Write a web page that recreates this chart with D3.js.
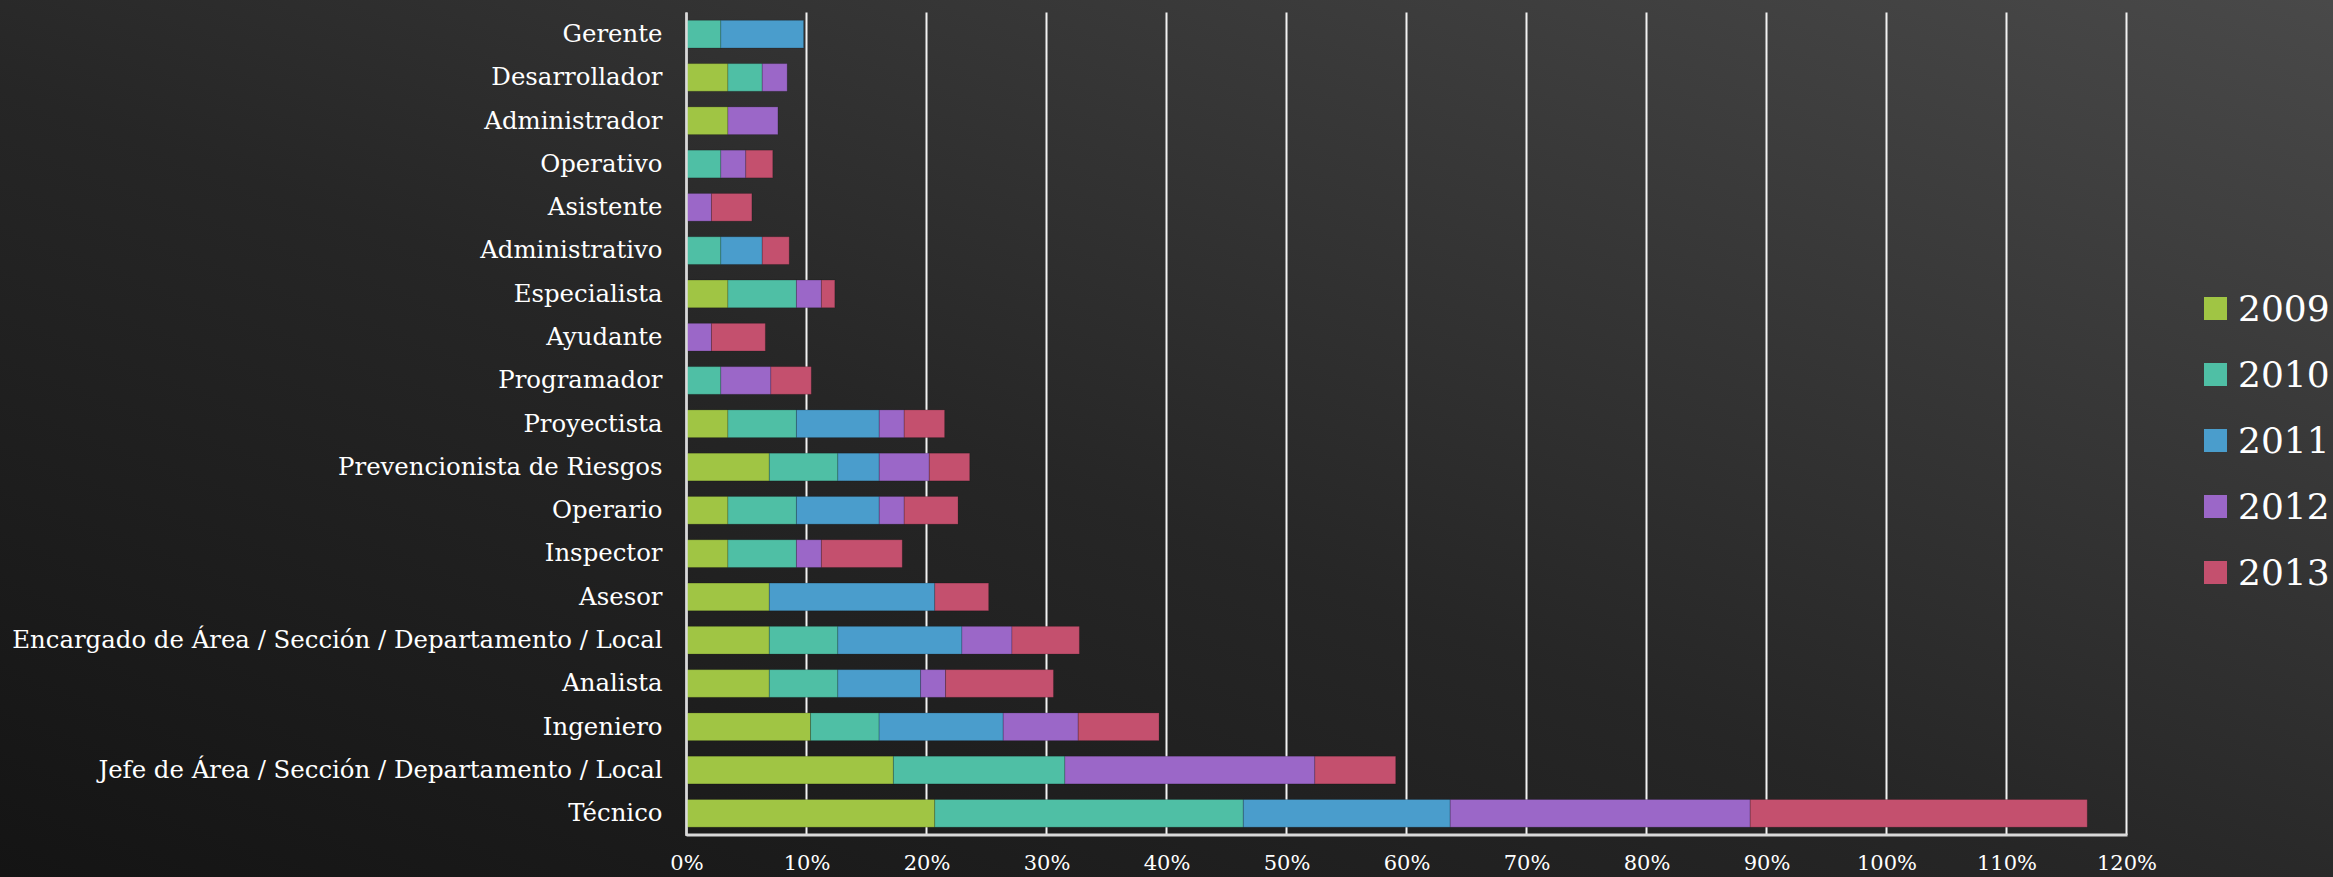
<!DOCTYPE html>
<html>
<head>
<meta charset="utf-8">
<script src="https://cdn.jsdelivr.net/npm/d3@7"></script>
<style>
  html, body { margin: 0; padding: 0; background: #222; }
  svg { display: block; }
</style>
</head>
<body>
<svg id="chart" width="2333" height="877"></svg>
<script>
// ---- Data (percent) ----
const categories = [
  "Gerente", "Desarrollador", "Administrador", "Operativo", "Asistente",
  "Administrativo", "Especialista", "Ayudante", "Programador", "Proyectista",
  "Prevencionista de Riesgos", "Operario", "Inspector", "Asesor",
  "Encargado de Área / Sección / Departamento / Local", "Analista", "Ingeniero",
  "Jefe de Área / Sección / Departamento / Local", "Técnico"
];
const seriesNames = ["2009", "2010", "2011", "2012", "2013"];
const s2009 = [0, 3.45, 3.45, 0, 0, 0, 3.45, 0, 0, 3.45, 6.90, 3.45, 3.45, 6.90, 6.90, 6.90, 10.34, 17.24, 20.69];
const s2010 = [2.86, 2.86, 0, 2.86, 0, 2.86, 5.71, 0, 2.86, 5.71, 5.71, 5.71, 5.71, 0, 5.71, 5.71, 5.71, 14.29, 25.71];
const s2011 = [6.90, 0, 0, 0, 0, 3.45, 0, 0, 0, 6.90, 3.45, 6.90, 0, 13.79, 10.34, 6.90, 10.34, 0, 17.24];
const s2012 = [0, 2.08, 4.17, 2.08, 2.08, 0, 2.08, 2.08, 4.17, 2.08, 4.17, 2.08, 2.08, 0, 4.17, 2.08, 6.25, 20.83, 25.00];
const s2013 = [0, 0, 0, 2.25, 3.37, 2.25, 1.12, 4.49, 3.37, 3.37, 3.37, 4.49, 6.74, 4.49, 5.62, 8.99, 6.74, 6.74, 28.09];
const tickValues = [0, 10, 20, 30, 40, 50, 60, 70, 80, 90, 100, 110, 120];
const colors = ["#a0c544", "#4fbfa5", "#4a9dcc", "#9b67c8", "#c4506e"];

(function () {
const seriesData = [s2009, s2010, s2011, s2012, s2013];
const table = categories.map((c, i) => {
  const row = { cat: c };
  seriesNames.forEach((s, j) => row[s] = seriesData[j][i]);
  return row;
});

const svg = d3.select("#chart");
const W = 2333, H = 877;

// background gradient
const defs = svg.append("defs");
const grad = defs.append("linearGradient").attr("id", "bg")
  .attr("x1", "0").attr("y1", "1").attr("x2", "1").attr("y2", "0");
grad.append("stop").attr("offset", "0%").attr("stop-color", "#141414");
grad.append("stop").attr("offset", "45%").attr("stop-color", "#262626");
grad.append("stop").attr("offset", "100%").attr("stop-color", "#494949");
svg.append("rect").attr("width", W).attr("height", H).attr("fill", "url(#bg)");

const pLeft = 686.5, pRight = 2126.5, pTop = 12.5, pBottom = 835;
const x = d3.scaleLinear().domain([0, 120]).range([pLeft, pRight]);
const y = d3.scaleBand().domain(categories).range([pTop, pBottom]).paddingInner(0.36).paddingOuter(0.18);

// gridlines
svg.append("g").selectAll("line").data(tickValues).join("line")
  .attr("x1", d => x(d)).attr("x2", d => x(d))
  .attr("y1", pTop).attr("y2", pBottom)
  .attr("stroke", "#f2f2f2").attr("stroke-width", 2);

// bars
const stacked = d3.stack().keys(seriesNames)(table);
svg.append("g").selectAll("g").data(stacked).join("g")
  .attr("fill", (d, i) => colors[i])
  .selectAll("rect").data(d => d.filter(v => v[1] - v[0] > 0)).join("rect")
  .attr("x", d => x(d[0]))
  .attr("width", d => x(d[1]) - x(d[0]))
  .attr("y", d => y(d.data.cat))
  .attr("height", y.bandwidth())
  .attr("stroke", "rgba(0,0,0,0.18)")
  .attr("stroke-width", 1);

// axes lines
svg.append("line").attr("x1", pLeft).attr("x2", pRight + 1).attr("y1", pBottom).attr("y2", pBottom)
  .attr("stroke", "#d9d9d9").attr("stroke-width", 3);
svg.append("line").attr("x1", pLeft).attr("x2", pLeft).attr("y1", pTop).attr("y2", pBottom + 1)
  .attr("stroke", "#d9d9d9").attr("stroke-width", 2.5);

// x axis tick labels
const xAxis = d3.axisBottom(x).tickValues(tickValues).tickFormat(d => d + "%").tickSize(0).tickPadding(0);
const gx = svg.append("g").attr("transform", `translate(0,${pBottom})`).call(xAxis);
gx.select(".domain").remove();
gx.selectAll("text")
  .attr("y", 28).attr("dy", "0.35em")
  .attr("fill", "#ffffff")
  .style("font-family", "'DejaVu Serif', serif")
  .style("font-size", "21px");

// y axis labels
const yAxis = d3.axisLeft(y).tickSize(0).tickPadding(0);
const gy = svg.append("g").attr("transform", `translate(${pLeft - 24},0)`).call(yAxis);
gy.select(".domain").remove();
gy.selectAll("text")
  .attr("fill", "#ffffff")
  .style("font-family", "'DejaVu Serif', serif")
  .style("font-size", "24.4px");

// legend
const lg = svg.append("g");
seriesNames.forEach((s, i) => {
  const yy = 297 + i * 66;
  lg.append("rect").attr("x", 2204).attr("y", yy).attr("width", 23).attr("height", 23).attr("fill", colors[i]);
  lg.append("text").attr("x", 2238).attr("y", yy + 11.5).attr("dy", "0.36em")
    .attr("fill", "#ffffff")
    .style("font-family", "'DejaVu Serif', serif")
    .style("font-size", "36px")
    .text(s);
});
})();
</script>
</body>
</html>
